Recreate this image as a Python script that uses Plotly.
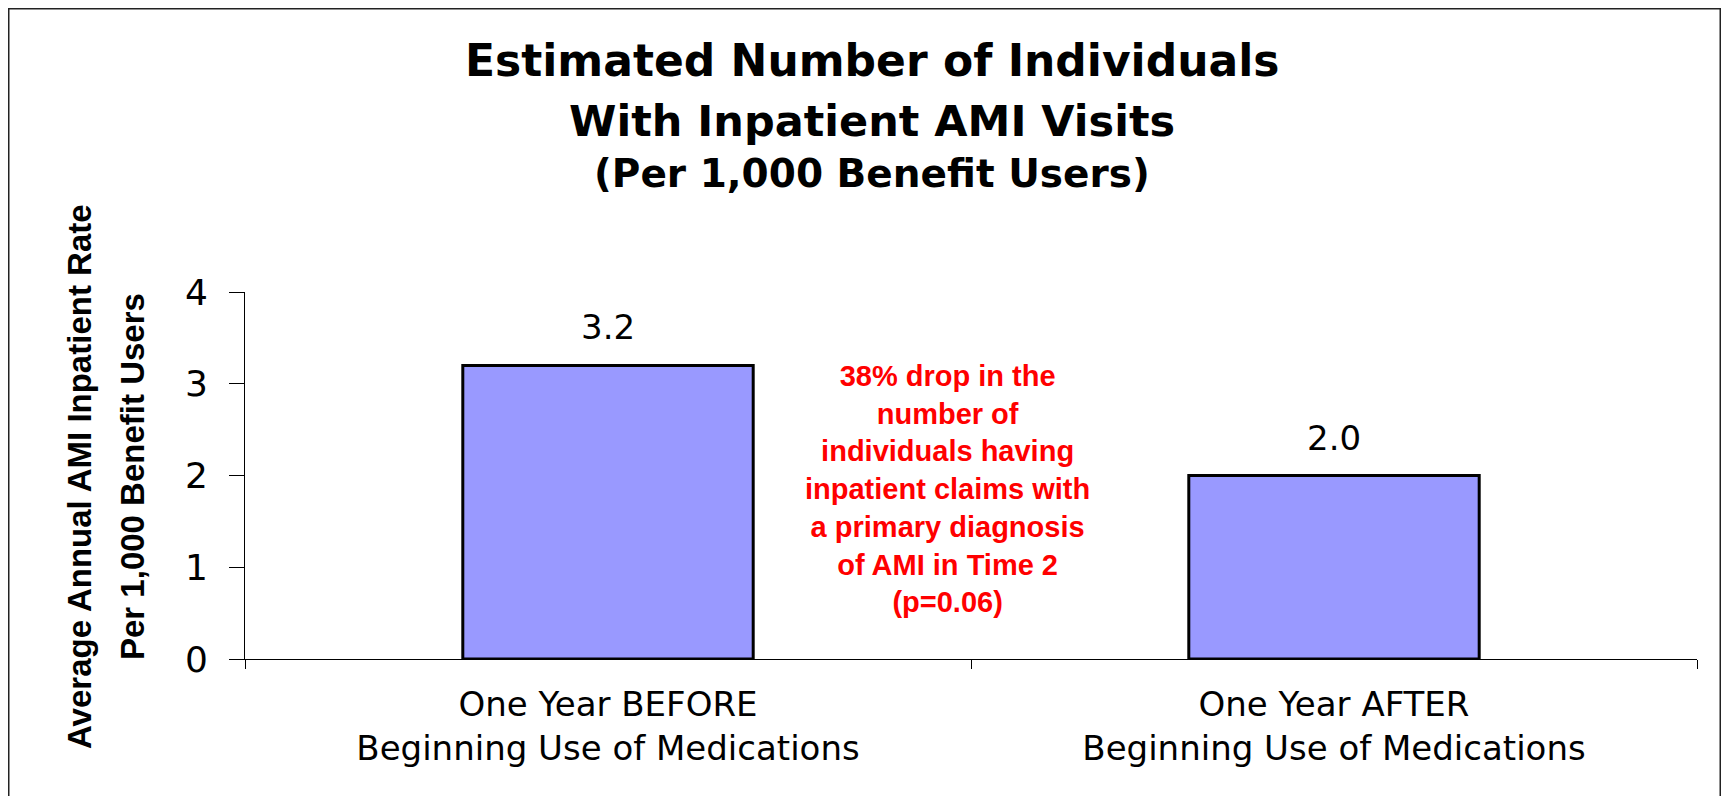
import plotly.graph_objects as go

# ---- data ----
categories = ["One Year BEFORE<br>Beginning Use of Medications",
              "One Year AFTER<br>Beginning Use of Medications"]
values = [3.2, 2.0]
y_ticks = [0, 1, 2, 3, 4]
title_lines = ["Estimated Number of Individuals",
               "With Inpatient AMI Visits",
               "(Per 1,000 Benefit Users)"]
y_title_lines = ["Average Annual AMI Inpatient Rate",
                 "Per 1,000 Benefit Users"]
note_lines = ["38% drop in the", "number of", "individuals having",
              "inpatient claims with", "a primary diagnosis",
              "of AMI in Time 2", "(p=0.06)"]

OFF = 8                       # page body margin
W, H = 1713, 788
L, R, T, B = 237, 24, 284, 137
PW, PH = W - L - R, H - T - B

def px(x):                    # page x -> paper x
    return (x - OFF - L) / PW

def py(y):                    # page y -> paper y
    return (H - B - (y - OFF)) / PH

WIDE = "DejaVu Sans, Verdana, sans-serif"
ARIAL = "Liberation Sans, Arial, sans-serif"

fig = go.Figure()
fig.add_trace(go.Bar(
    x=categories, y=values,
    marker=dict(color="#9999FF", line=dict(color="black", width=3)),
    hoverinfo="skip",
))

annotations = []
# value labels above bars
for c, v in zip(categories, values):
    annotations.append(dict(x=c, y=v, xref="x", yref="y", text=f"{v:.1f}",
                            showarrow=False, yanchor="bottom", yshift=16,
                            font=dict(family=WIDE, size=34, color="black")))

# title lines
title_specs = [(60, 44), (121, 43), (174, 39)]
for line, (cy, fs) in zip(title_lines, title_specs):
    annotations.append(dict(x=px(872), y=py(cy), xref="paper", yref="paper",
                            text=f"<b>{line}</b>", showarrow=False,
                            xanchor="center", yanchor="middle",
                            font=dict(family=WIDE, size=fs, color="black")))

# y axis title (two rotated lines)
for line, cx in zip(y_title_lines, [79, 132]):
    annotations.append(dict(x=px(cx), y=py(477), xref="paper", yref="paper",
                            text=f"<b>{line}</b>", showarrow=False, textangle=-90,
                            xanchor="center", yanchor="middle",
                            font=dict(family=ARIAL, size=33, color="black")))

# red note
annotations.append(dict(x=px(947), y=py(489), xref="paper", yref="paper",
                        text="<b>" + "<br>".join(note_lines) + "</b>",
                        showarrow=False, xanchor="center", yanchor="middle",
                        align="center",
                        font=dict(family=ARIAL, size=29, color="#FF0000")))

fig.update_layout(
    width=W, height=H,
    margin=dict(l=L, r=R, t=T, b=B, pad=0),
    paper_bgcolor="white", plot_bgcolor="white",
    showlegend=False,
    bargap=0.6,
    annotations=annotations,
    shapes=[dict(type="rect", xref="paper", yref="paper",
                 x0=(0.75 - L) / PW, x1=(W - 0.75 - L) / PW,
                 y0=(H - B - (H + 20)) / PH, y1=(H - B - 0.75) / PH,
                 line=dict(color="#222222", width=1.5), layer="above")],
    xaxis=dict(
        type="category", showgrid=False, zeroline=False,
        showline=True, linecolor="black", linewidth=1,
        ticks="outside", ticklen=9, tickcolor="black", tickwidth=1,
        tickson="boundaries",
        tickfont=dict(family=WIDE, size=34, color="black"),
        ticklabelstandoff=15,
    ),
    yaxis=dict(
        range=[0, 4], tickvals=y_ticks, showgrid=False, zeroline=False,
        showline=True, linecolor="black", linewidth=1,
        ticks="outside", ticklen=15, tickcolor="black", tickwidth=1,
        tickfont=dict(family=WIDE, size=36, color="black"),
        ticklabelstandoff=14,
    ),
)

fig.write_html("out.html")
